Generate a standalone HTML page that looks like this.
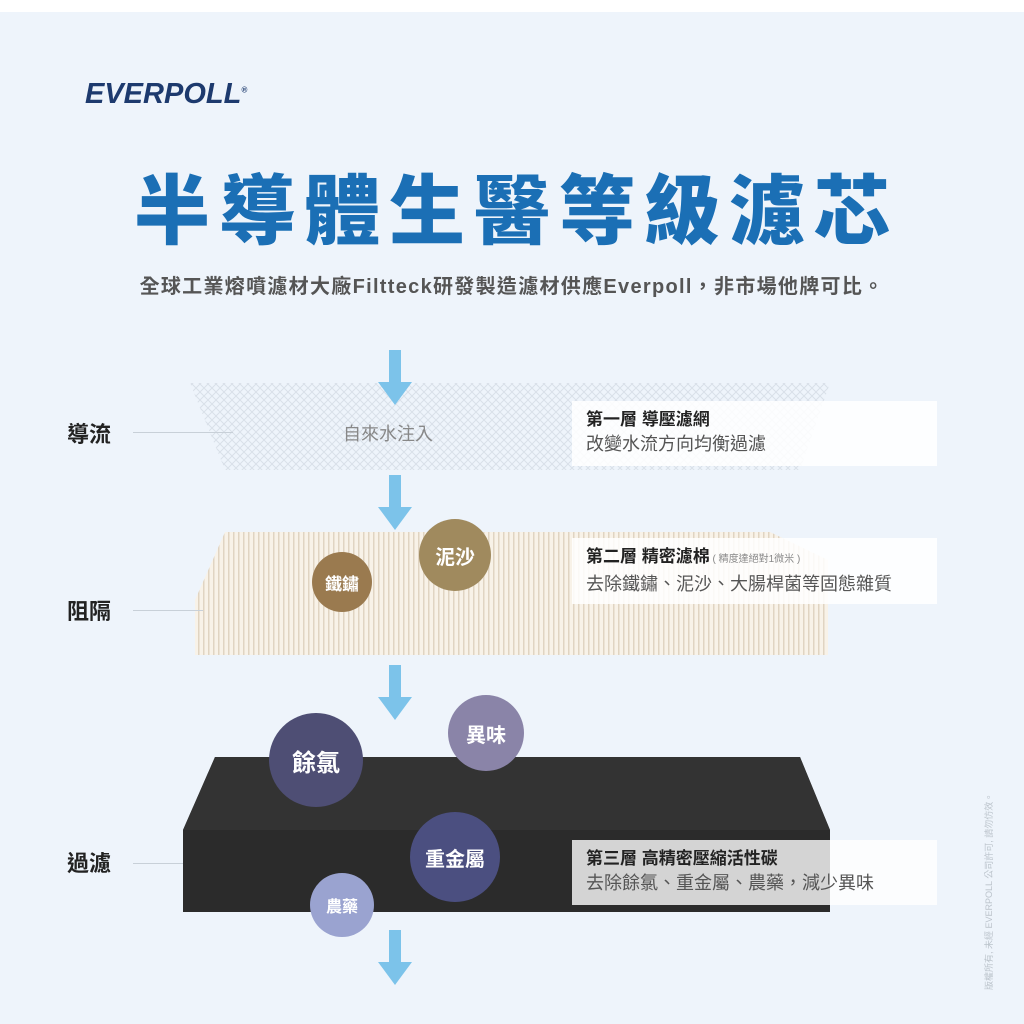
<!DOCTYPE html>
<html><head><meta charset="utf-8"><style>
body{margin:0;width:1024px;height:1024px;background:#eef4fb;position:relative;overflow:hidden;font-family:"Liberation Sans","Noto Sans CJK TC",sans-serif}
.a{position:absolute}
.lbl{position:absolute;left:67px;font-size:22px;font-weight:bold;color:#222}
.ln{position:absolute;left:133px;height:1px;background:#c8d0d8;width:100px}
.box{position:absolute;left:572px;width:365px;background:rgba(255,255,255,0.85);padding:7px 14px;box-sizing:border-box}
.box b{font-size:17px;color:#222;display:block;line-height:24px}
.box span{font-size:18px;color:#555;line-height:24px}
.c{position:absolute;border-radius:50%;color:#fff;display:flex;align-items:center;justify-content:center;font-weight:bold}
</style></head><body>
<div class="a" style="left:0;top:0;width:1024px;height:12px;background:#fff"></div>
<div class="a" style="left:85px;top:78px;font-size:29px;font-weight:900;font-style:italic;color:#1d3a6e;letter-spacing:0px">EVERPOLL<sup style="font-size:8px">®</sup></div>
<div class="a" style="left:0;width:1024px;top:150px;text-align:center;font-size:76px;font-weight:900;color:#1b6fb5;letter-spacing:9px;font-family:'Noto Sans CJK TC',sans-serif;padding-left:9px;box-sizing:border-box">半導體生醫等級濾芯</div>
<div class="a" style="left:0;width:1024px;top:270px;text-align:center;font-size:20px;font-weight:bold;color:#555;letter-spacing:1.3px">全球工業熔噴濾材大廠Filtteck研發製造濾材供應Everpoll，非市場他牌可比。</div>

<svg class="a" style="left:0;top:0" width="1024" height="1024">
<defs>
<pattern id="m" width="8" height="8" patternUnits="userSpaceOnUse"><path d="M0 8L8 0M0 0L8 8" stroke="#d4dbe4" stroke-width="1"/></pattern>
<pattern id="p" width="5" height="10" patternUnits="userSpaceOnUse"><rect width="5" height="10" fill="#f8f2e8"/><rect x="3" width="1.5" height="10" fill="#e0d4c2"/></pattern>
</defs>
<polygon points="190,383 830,383 800,470 225,470" fill="url(#m)" opacity="0.8"/>
<polygon points="225,532 770,532 828,560 828,655 195,655 195,600" fill="url(#p)"/>
<polygon points="215,757 800,757 830,830 830,912 183,912 183,830" fill="#2b2b2b"/>
<polygon points="215,757 800,757 830,830 183,830" fill="#333"/>
<g fill="#7cc3ea">
<rect x="389" y="350" width="12" height="35"/><polygon points="378,382 412,382 395,405"/>
<rect x="389" y="475" width="12" height="35"/><polygon points="378,507 412,507 395,530"/>
<rect x="389" y="665" width="12" height="35"/><polygon points="378,697 412,697 395,720"/>
<rect x="389" y="930" width="12" height="35"/><polygon points="378,962 412,962 395,985"/>
</g>
</svg>
<div class="a" style="left:343px;top:420px;font-size:18px;color:#888">自來水注入</div>

<div class="lbl" style="top:417px">導流</div><div class="ln" style="top:432px"></div>
<div class="lbl" style="top:594px">阻隔</div><div class="ln" style="top:610px;width:70px"></div>
<div class="lbl" style="top:846px">過濾</div><div class="ln" style="top:863px;width:50px"></div>

<div class="box" style="top:401px;height:65px"><b>第一層 導壓濾網</b><span>改變水流方向均衡過濾</span></div>
<div class="box" style="top:538px;height:66px"><b>第二層 精密濾棉<small style="font-weight:normal;font-size:10px;color:#888"> ( 精度達絕對1微米 )</small></b><span>去除鐵鏽、泥沙、大腸桿菌等固態雜質</span></div>
<div class="box" style="top:840px;height:65px;background:rgba(255,255,255,0.8)"><b>第三層 高精密壓縮活性碳</b><span>去除餘氯、重金屬、農藥，減少異味</span></div>

<div class="c" style="left:419px;top:519px;width:72px;height:72px;background:#a08a5e;font-size:20px">泥沙</div>
<div class="c" style="left:312px;top:552px;width:60px;height:60px;background:#9a7a4f;font-size:17px">鐵鏽</div>
<div class="c" style="left:269px;top:713px;width:94px;height:94px;background:#4e4e74;font-size:24px">餘氯</div>
<div class="c" style="left:448px;top:695px;width:76px;height:76px;background:#8a84a8;font-size:20px">異味</div>
<div class="c" style="left:410px;top:812px;width:90px;height:90px;background:#4b4f80;font-size:20px">重金屬</div>
<div class="c" style="left:310px;top:873px;width:64px;height:64px;background:#9aa3d0;font-size:16px">農藥</div>

<div class="a" style="left:982px;top:990px;transform-origin:0 0;transform:rotate(-90deg);font-size:9px;color:#bcc4cc;white-space:nowrap">版權所有, 未經 EVERPOLL 公司許可, 請勿仿效。</div>
</body></html>
